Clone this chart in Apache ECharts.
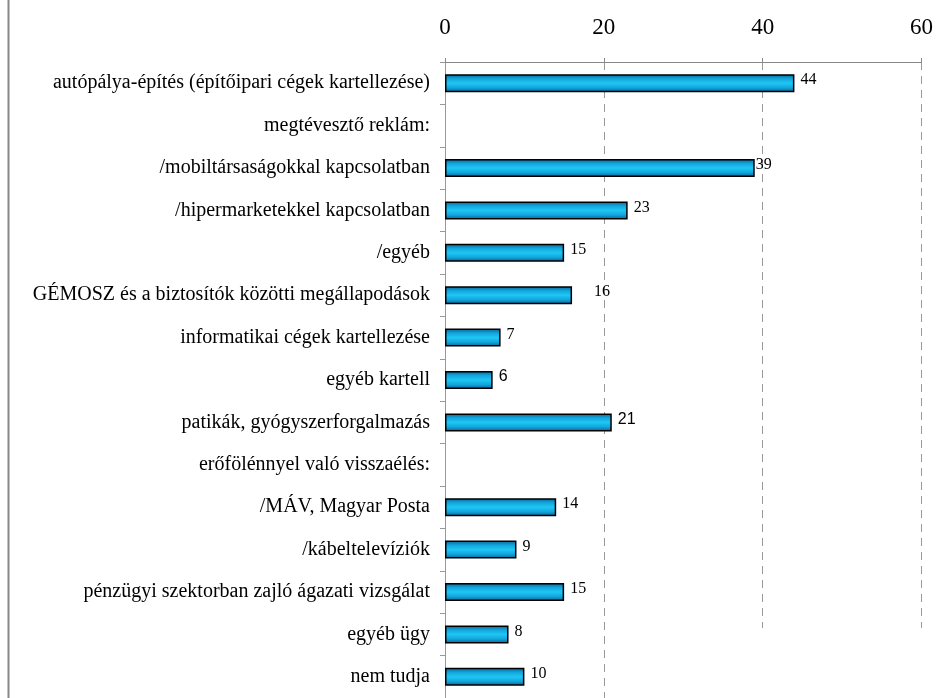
<!DOCTYPE html>
<html>
<head>
<meta charset="utf-8">
<script src="https://cdn.jsdelivr.net/npm/echarts@6/dist/echarts.min.js"></script>
<style>
  html, body { margin: 0; padding: 0; background: #fff; }
  #chart { width: 936px; height: 698px; }
</style>
</head>
<body>
<div id="chart"></div>
<script>
const categories = [
  'autópálya-építés (építőipari cégek kartellezése)',
  'megtévesztő reklám:',
  '/mobiltársaságokkal kapcsolatban',
  '/hipermarketekkel kapcsolatban',
  '/egyéb',
  'GÉMOSZ és a biztosítók közötti megállapodások',
  'informatikai cégek kartellezése',
  'egyéb kartell',
  'patikák, gyógyszerforgalmazás',
  'erőfölénnyel való visszaélés:',
  '/MÁV, Magyar Posta',
  '/kábeltelevíziók',
  'pénzügyi szektorban zajló ágazati vizsgálat',
  'egyéb ügy',
  'nem tudja'
]
const values = [44, null, 39, 23, 15, 16, 7, 6, 21, null, 14, 9, 15, 8, 10]
const xTicks = [0, 20, 40, 60]

const chart = echarts.init(document.getElementById('chart'))

const barColor = new echarts.graphic.LinearGradient(0, 0, 0, 1, [
  { offset: 0, color: '#0a5f92' },
  { offset: 0.25, color: '#12a6dc' },
  { offset: 0.5, color: '#1fc6f4' },
  { offset: 0.75, color: '#12a6dc' },
  { offset: 1, color: '#0a5f92' }
])

// a few labels in the original use a sans font
const sansLabels = { 7: true, 8: true }

const seriesData = values.map((v, i) => {
  const item = { value: v }
  if (sansLabels[i]) {
    item.label = { fontFamily: 'Liberation Sans', fontSize: 16 }
  }
  if (i === 5) {
    item.label = { distance: 22 }
  }
  if (i === 2) {
    item.label = { distance: 1 }
  }
  return item
})

chart.setOption({
  animation: false,
  textStyle: { fontFamily: 'Liberation Serif' },
  graphic: [{
    type: 'line',
    shape: { x1: 8.5, y1: 0, x2: 8.5, y2: 698 },
    style: { stroke: '#888', lineWidth: 2 }
  }, {
    // the 40 / 60 gridlines stop short of the bottom in the original
    type: 'rect',
    shape: { x: 700, y: 628, width: 236, height: 70 },
    style: { fill: '#fff' },
    z: 1
  }],
  grid: {
    left: 445,
    right: 14,
    top: 62,
    bottom: -1,
    containLabel: false
  },
  xAxis: {
    type: 'value',
    position: 'top',
    min: 0,
    max: 60,
    interval: 20,
    axisLine: { show: true, lineStyle: { color: '#888', width: 1 } },
    axisTick: { show: true, inside: false, length: 4, lineStyle: { color: '#888' } },
    axisLabel: {
      color: '#000',
      fontSize: 23,
      fontFamily: 'Liberation Serif',
      margin: 23,
      formatter: v => (xTicks.indexOf(v) >= 0 ? String(v) : '')
    },
    splitLine: {
      show: true,
      lineStyle: { color: '#999', type: [8, 6], width: 1 }
    }
  },
  yAxis: {
    type: 'category',
    inverse: true,
    data: categories,
    axisLine: { show: true, lineStyle: { color: '#999', width: 1 } },
    axisTick: { show: true, length: 5, lineStyle: { color: '#999' } },
    axisLabel: {
      color: '#000',
      fontSize: 20,
      fontFamily: 'Liberation Serif',
      margin: 15,
      padding: [4, 0, 0, 0]
    },
    splitLine: { show: false }
  },
  series: [{
    type: 'bar',
    data: seriesData,
    barWidth: 18,
    itemStyle: {
      color: barColor,
      borderColor: '#000',
      borderWidth: 1.5
    },
    label: {
      show: true,
      position: 'right',
      distance: 6,
      color: '#000',
      fontSize: 16,
      fontFamily: 'Liberation Serif',
      offset: [0, -3]
    }
  }]
})
</script>
</body>
</html>
